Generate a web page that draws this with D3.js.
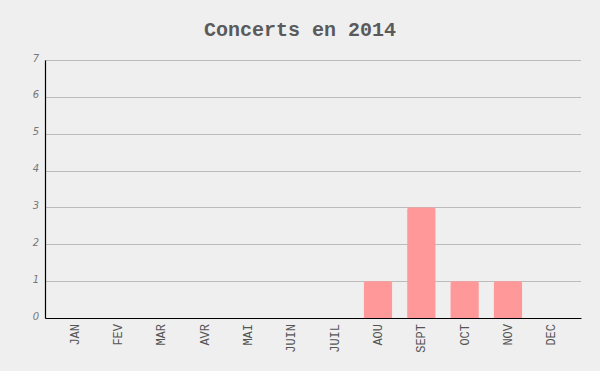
<!DOCTYPE html>
<html>
<head>
<meta charset="utf-8">
<script src="https://cdn.jsdelivr.net/npm/d3@7"></script>
<style>
  body { margin: 0; background: #efefef; }
  svg { display: block; }
</style>
</head>
<body>
<div id="chart"></div>
<script>
const months = ["JAN", "FEV", "MAR", "AVR", "MAI", "JUIN", "JUIL", "AOU", "SEPT", "OCT", "NOV", "DEC"];
const concerts = [0, 0, 0, 0, 0, 0, 0, 1, 3, 1, 1, 0];
const yTicks = [0, 1, 2, 3, 4, 5, 6, 7];
const title = "Concerts en 2014";

const width = 600, height = 371;
const margin = {top: 60, right: 19, bottom: 53, left: 45};

const svg = d3.select("#chart").append("svg")
    .attr("width", width)
    .attr("height", height);

svg.append("rect")
    .attr("width", width)
    .attr("height", height)
    .attr("fill", "#efefef");

svg.append("text")
    .attr("x", width / 2)
    .attr("y", 36)
    .attr("text-anchor", "middle")
    .attr("font-family", "Liberation Mono, Courier New, monospace")
    .attr("font-weight", "bold")
    .attr("font-size", 20)
    .attr("fill", "#5a5a5a")
    .text(title);

const x = d3.scaleBand()
    .domain(months)
    .range([margin.left, width - margin.right])
    .paddingInner(0.35)
    .paddingOuter(0.36);

const y = d3.scaleLinear()
    .domain([0, 7])
    .range([height - margin.bottom, margin.top]);

// grid lines
svg.append("g")
    .selectAll("line")
    .data(yTicks.filter(d => d > 0))
    .join("line")
    .attr("x1", margin.left)
    .attr("x2", width - margin.right)
    .attr("y1", d => Math.round(y(d)) + 0.5)
    .attr("y2", d => Math.round(y(d)) + 0.5)
    .attr("stroke", "#bbb")
    .attr("stroke-width", 1);

// bars
svg.append("g")
    .selectAll("path")
    .data(months.map((m, i) => ({month: m, value: concerts[i]})).filter(d => d.value > 0))
    .join("path")
    .attr("fill", "#ff9999")
    .attr("d", d => {
        const x0 = x(d.month), w = x.bandwidth();
        const y0 = y(d.value), y1 = y(0), r = 2;
        return `M ${x0} ${y1} L ${x0} ${y0 + r} Q ${x0} ${y0} ${x0 + r} ${y0} L ${x0 + w - r} ${y0} Q ${x0 + w} ${y0} ${x0 + w} ${y0 + r} L ${x0 + w} ${y1} Z`;
    });

// y axis
const yAxis = svg.append("g")
    .attr("transform", `translate(${margin.left},0)`)
    .call(d3.axisLeft(y).tickValues(yTicks).tickFormat(d3.format("d")).tickSize(0).tickPadding(6));
yAxis.select(".domain").attr("stroke", "#000").attr("stroke-width", 1.2);
yAxis.selectAll("text")
    .attr("font-family", "DejaVu Sans, sans-serif")
    .attr("font-style", "italic")
    .attr("font-size", 10)
    .attr("fill", "#777")
    .attr("dy", "0.1em");

// x axis
const xAxis = svg.append("g")
    .attr("transform", `translate(0,${height - margin.bottom})`)
    .call(d3.axisBottom(x).tickSize(0).tickPadding(6));
xAxis.select(".domain").attr("stroke", "#000").attr("stroke-width", 1.2);
xAxis.selectAll("text")
    .attr("font-family", "Liberation Mono, Courier New, monospace")
    .attr("font-size", 12)
    .attr("fill", "#555")
    .attr("text-anchor", "end")
    .attr("transform", "rotate(-90)")
    .attr("x", -6)
    .attr("y", 0)
    .attr("dy", "0.32em");
</script>
</body>
</html>
